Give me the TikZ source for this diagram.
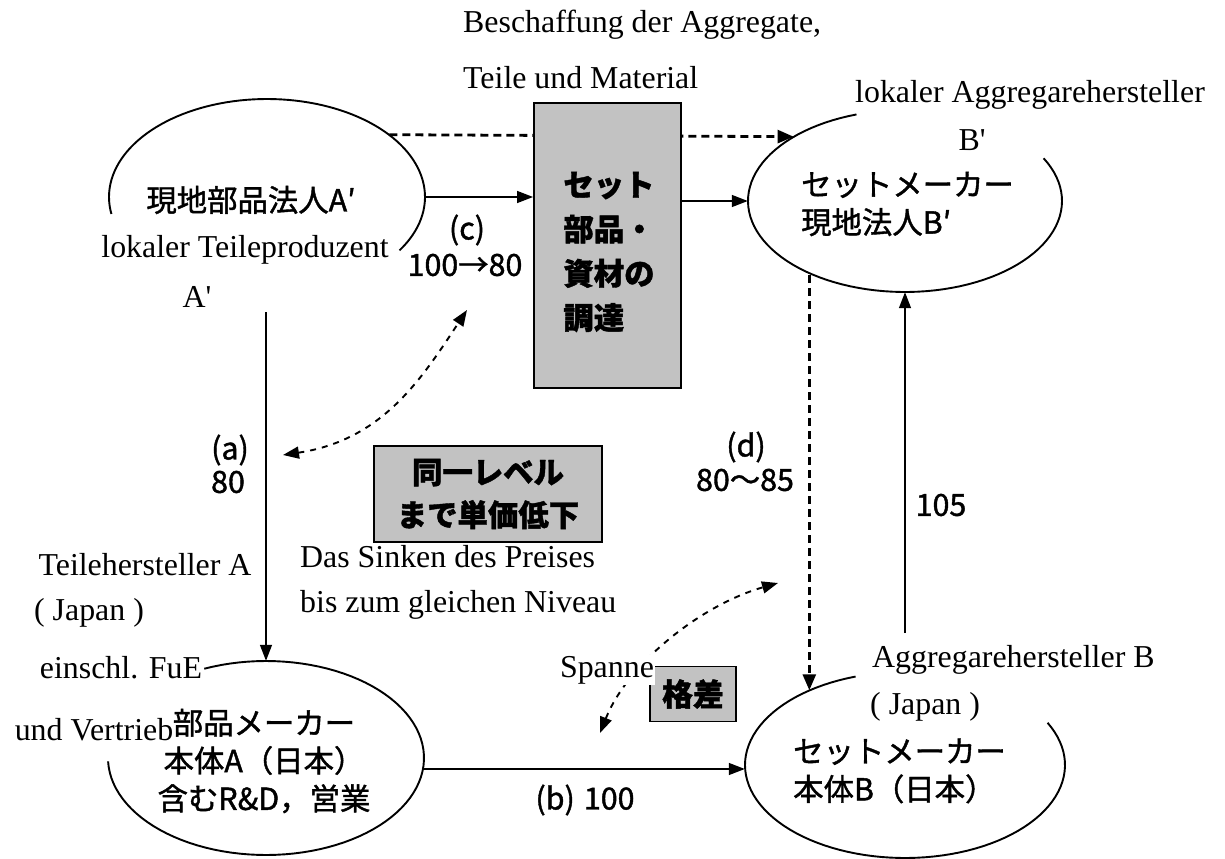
\documentclass[tikz,border=0pt]{standalone}
\usepackage{fontspec}
\setmainfont{Liberation Serif}
\newfontfamily\jp[FakeBold=1.3]{Noto Sans CJK JP}
\usetikzlibrary{arrows.meta,shapes.geometric}
\begin{document}
\begin{tikzpicture}[x=1bp,y=-1bp,
  ell/.style={ellipse,draw=none,inner sep=0pt},
  rim/.style={line width=1.9bp},
  arr/.style={line width=1.4bp,-{Triangle[length=16bp,width=12bp]}},
  dasharr/.style={line width=2.8bp,dash pattern=on 8bp off 5bp,-{Triangle[length=16bp,width=13bp]}},
  dblarr/.style={line width=1.9bp,dash pattern=on 6bp off 6bp,{Triangle[length=16bp,width=12bp]}-{Triangle[length=16bp,width=12bp]}},
  ser/.style={font=\fontsize{32}{38}\selectfont,inner sep=0pt},
  jpt/.style={font=\jp\fontsize{30.5}{38}\selectfont,inner sep=0pt},
  jpb/.style={font=\jp\bfseries\fontsize{30.5}{44.5}\selectfont,inner sep=0pt},
  shade/.style={draw,line width=1.9bp,fill=black!24,inner sep=0pt},
]
\fill[white] (0,0) rectangle (1225,859);
\useasboundingbox (0,0) rectangle (1225,859);

% ellipse nodes (outline drawn as partial arcs below)
\node[ell,minimum width=316bp,minimum height=196bp] (Ap) at (267,197) {};
\node[ell,minimum width=314bp,minimum height=182bp] (Bp) at (905,201) {};
\node[ell,minimum width=316bp,minimum height=194bp] (A) at (266,758) {};
\node[ell,minimum width=320bp,minimum height=186bp] (B) at (905,765) {};

\draw[rim] plot[domain=-33:190,samples=90,variable=\t] ({267+158*cos(\t)},{197-98*sin(\t)});
\draw[rim] plot[domain=108:388,samples=90,variable=\t] ({905+157*cos(\t)},{201-91*sin(\t)});
\draw[rim] plot[domain=-178:113,samples=90,variable=\t] ({266+158*cos(\t)},{758-97*sin(\t)});
\draw[rim] plot[domain=108:387,samples=90,variable=\t] ({905+160*cos(\t)},{765-93*sin(\t)});

% dashed top connector (behind the box)
\draw[dasharr] (Ap.27) -- (Bp.150);

% procurement box
\node[shade,minimum width=147bp,minimum height=285bp] (proc) at (607.5,245.5) {};
\node[jpb,align=left] (proctxt) at (609,252) {セット\\部品・\\資材の\\調達};

% solid connectors
\draw[arr] (Ap.east) -- (Ap.east -| proc.west);
\draw[arr] (proc.east |- Bp.west) -- (Bp.west);
\coordinate (a0) at (266,312);
\draw[arr] (a0) -- (A.north);
\draw[arr] (A.-4) -- (A.-4 -| B.west);
\coordinate (b0) at (905,633);
\draw[arr] (b0) -- (Bp.south);
\draw[dasharr] (B.142 |- Bp.219) -- (B.142);

% curved dashed double arrows
\coordinate (c1a) at (283,455);
\coordinate (c1b) at (467,310);
\draw[dblarr] (c1a) .. controls (383,440) and (422,378) .. (c1b);
\coordinate (c2a) at (600,733);
\coordinate (c2b) at (778,583);
\draw[dblarr] (c2a) .. controls (628,663) and (701,605) .. (c2b);

% shaded notes
\node[shade,font=\jp\bfseries\fontsize{30.5}{43}\selectfont,align=center,minimum width=228bp,minimum height=96bp] (lvl) at (488,494) {同一レベル\\まで単価低下};
\node[shade,font=\jp\bfseries\fontsize{31}{38}\selectfont,minimum width=86bp,minimum height=55bp] (gap) at (693,694) {格差};

% German labels
\node[ser,anchor=west] (t1) at (463,25) {Beschaffung der Aggregate,};
\node[ser,anchor=west] (t2) at (463,78) {Teile und Material};
\node[ser,anchor=west] (t3) at (855,95) {lokaler Aggregarehersteller};
\node[ser] (t4) at (972,140) {B\textquotesingle};
\node[ser] (t5) at (245,250) {lokaler Teileproduzent};
\node[ser] (t6) at (197,297) {A\textquotesingle};
\node[ser] (t7) at (145,565) {Teilehersteller A};
\node[ser] (t8) at (89,613) {( Japan )};
\node[ser] (t9) at (121,668) {einschl. FuE};
\node[ser] (t10) at (94,730) {und Vertrieb};
\node[ser,anchor=west] (t11) at (300,557) {Das Sinken des Preises};
\node[ser,anchor=west] (t12) at (300,605) {bis zum gleichen Niveau};
\node[ser,fill=white,inner sep=1bp] (t13) at (607,670) {Spanne};
\node[ser,anchor=west] (t14) at (872,660) {Aggregarehersteller B};
\node[ser,anchor=west] (t15) at (870,707) {( Japan )};

% Japanese / numeric labels
\node[jpt] (j1) at (251,200) {現地部品法人A′};
\node[jpt,align=left,anchor=west] (j2) at (801,204) {セットメーカー\\現地法人B′};
\node[jpt,align=center] (j3) at (264,761) {部品メーカー\\本体A（日本）\\含むR\&D，営業};
\node[jpt,align=left,anchor=west] (j4) at (793,771) {セットメーカー\\本体B（日本）};
\node[jpt] (l1) at (467,230) {(c)};
\node[jpt] (l2) at (465,265) {100→80};
\node[jpt] (l3) at (230,450) {(a)};
\node[jpt] (l4) at (228,482) {80};
\node[jpt] (l5) at (746,447) {(d)};
\node[jpt] (l6) at (745,480) {80〜85};
\node[jpt] (l7) at (941,505) {105};
\node[jpt] (l8) at (585,800) {(b)\hspace{0.3em}100};
\end{tikzpicture}
\end{document}
